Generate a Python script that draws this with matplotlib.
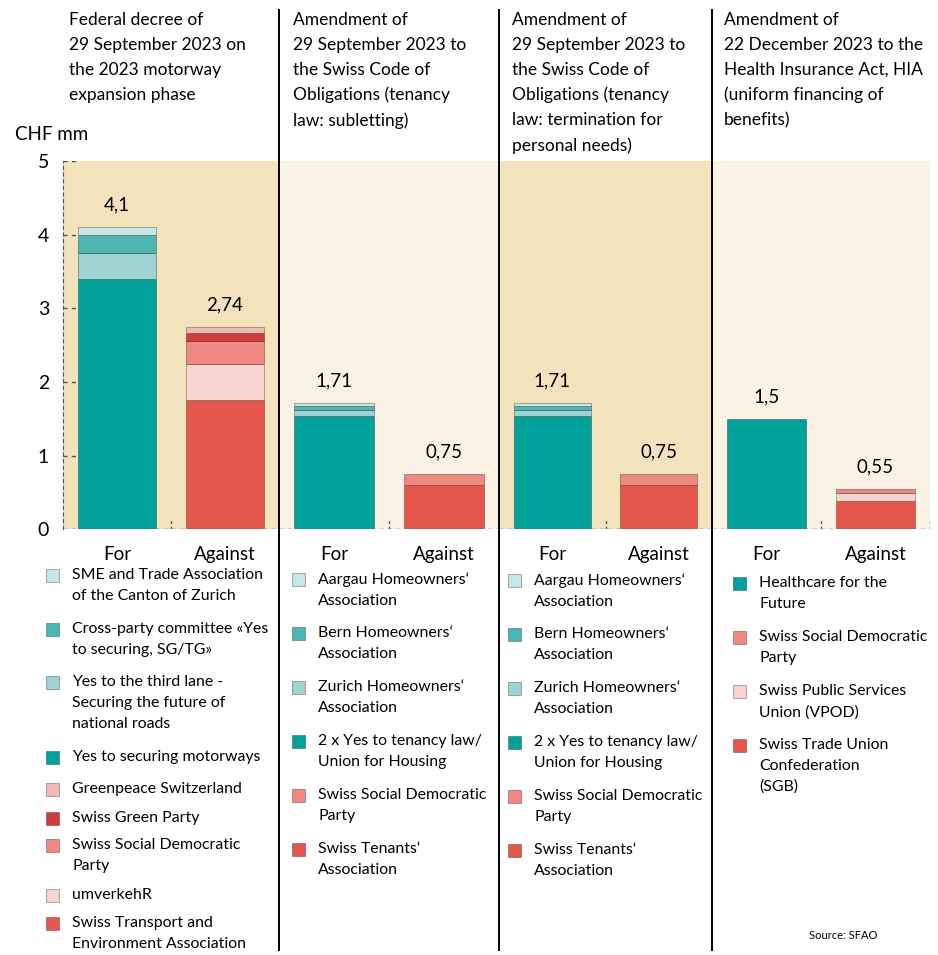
import matplotlib.pyplot as plt
from matplotlib.patches import Rectangle
from matplotlib.lines import Line2D

plt.rcParams["font.family"] = ["Lato", "DejaVu Sans"]

# ---- data -------------------------------------------------------------
titles = [
    "Federal decree of\n29 September 2023 on\nthe 2023 motorway\nexpansion phase",
    "Amendment of\n29 September 2023 to\nthe Swiss Code of\nObligations (tenancy\nlaw: subletting)",
    "Amendment of\n29 September 2023 to\nthe Swiss Code of\nObligations (tenancy\nlaw: termination for\npersonal needs)",
    "Amendment of\n22 December 2023 to the\nHealth Insurance Act, HIA\n(uniform financing of\nbenefits)",
]
categories = ["For", "Against"]

# stacks listed bottom -> top
p1_for_labels = ["Yes to securing motorways",
                 "Yes to the third lane -\nSecuring the future of\nnational roads",
                 "Cross-party committee «Yes\nto securing, SG/TG»",
                 "SME and Trade Association\nof the Canton of Zurich"]
p1_for_values = [3.40, 0.35, 0.25, 0.10]
p1_against_labels = ["Swiss Transport and\nEnvironment Association",
                     "umverkehR",
                     "Swiss Social Democratic\nParty",
                     "Swiss Green Party",
                     "Greenpeace Switzerland"]
p1_against_values = [1.76, 0.49, 0.30, 0.12, 0.07]

tenancy_for_labels = ["2 x Yes to tenancy law/\nUnion for Housing",
                      "Zurich Homeowners\u2018\nAssociation",
                      "Bern Homeowners\u2018\nAssociation",
                      "Aargau Homeowners\u2018\nAssociation"]
tenancy_for_values = [1.54, 0.08, 0.06, 0.03]
tenancy_against_labels = ["Swiss Tenants\u2018\nAssociation",
                          "Swiss Social Democratic\nParty"]
tenancy_against_values = [0.60, 0.15]

hia_for_labels = ["Healthcare for the\nFuture"]
hia_for_values = [1.5]
hia_against_labels = ["Swiss Trade Union\nConfederation\n(SGB)",
                      "Swiss Public Services\nUnion (VPOD)",
                      "Swiss Social Democratic\nParty"]
hia_against_values = [0.39, 0.10, 0.06]

# colours
TEAL, TEAL_MID, TEAL_LIGHT, TEAL_PALE = "#00a19b", "#4db6b3", "#9dd4d3", "#c6e7e7"
RED, SALMON, DARKRED, PINK, PALEPINK = "#e5574d", "#ee8880", "#cf3c39", "#f4b9b4", "#f7d4d2"
TAN, CREAM = "#f3e3bc", "#faf3e4"

p1_for_colors = [TEAL, TEAL_LIGHT, TEAL_MID, TEAL_PALE]
p1_against_colors = [RED, PALEPINK, SALMON, DARKRED, PINK]
tenancy_for_colors = [TEAL, TEAL_LIGHT, TEAL_MID, TEAL_PALE]
tenancy_against_colors = [RED, SALMON]
hia_for_colors = [TEAL]
hia_against_colors = [RED, PALEPINK, SALMON]

panels = [
    (p1_for_labels, p1_for_values, p1_for_colors,
     p1_against_labels, p1_against_values, p1_against_colors),
    (tenancy_for_labels, tenancy_for_values, tenancy_for_colors,
     tenancy_against_labels, tenancy_against_values, tenancy_against_colors),
    (tenancy_for_labels, tenancy_for_values, tenancy_for_colors,
     tenancy_against_labels, tenancy_against_values, tenancy_against_colors),
    (hia_for_labels, hia_for_values, hia_for_colors,
     hia_against_labels, hia_against_values, hia_against_colors),
]

# ---- layout (pixels) ----------------------------------------------------
W, H = 938, 955
edges = [63, 279, 499, 712, 930]
bg = [TAN, CREAM, TAN, CREAM]
title_x = [69, 293, 512, 724]
leg_box_x = [46, 292, 508, 733]
leg_top = [575, 579, 580, 583]
# vertical gap after each legend entry (panel 1 is squeezed at the bottom)
leg_gaps = [[33, 32, 33, 32, 29, 27, 29, 28, 0],
            [33] * 6, [33] * 6, [33] * 4]
LINE = 21
y_bottom, y_top = 529.3, 161


def fx(px):
    return px / W


def fy(py):
    return 1 - py / H


fig = plt.figure(figsize=(W / 100, H / 100), dpi=100)

for i, (fl, fv, fc, al, av, ac) in enumerate(panels):
    ax = fig.add_axes([fx(edges[i]), fy(y_bottom),
                       (edges[i + 1] - edges[i]) / W, (y_bottom - y_top) / H])
    ax.set_facecolor(bg[i])
    ax.set_xlim(-0.5, 1.5)
    ax.set_ylim(0, 5)
    for s in ax.spines.values():
        s.set_visible(False)

    for x, vals, cols in ((0, fv, fc), (1, av, ac)):
        bottom = 0
        for v, c in zip(vals, cols):
            ax.bar(x, v, bottom=bottom, width=0.72, color=c,
                   edgecolor=(0, 0, 0, 0.3), linewidth=0.7, zorder=3)
            bottom += v
        lbl = f"{bottom:.2f}".rstrip("0").rstrip(".").replace(".", ",")
        ax.text(x, bottom + 0.3, lbl, ha="center", va="center", fontsize=13.5)

    ax.axhline(0, color="#555555", lw=1, ls=(0, (3, 3)), zorder=4)
    ax.vlines(0.5, 0, 0.12, color="#555555", lw=1, ls=(0, (2, 2)), zorder=4)
    ax.set_xticks([0, 1])
    ax.set_xticklabels(categories, fontsize=13.5)
    ax.tick_params(axis="x", length=0, pad=12)

    if i == 0:
        ax.spines["left"].set_visible(True)
        ax.spines["left"].set_linestyle((0, (3, 3)))
        ax.spines["left"].set_color("#555555")
        ax.hlines([1, 2, 3, 4, 5], -0.5, -0.35, color="#555555", lw=1,
                  ls=(0, (3, 3)), zorder=4)
        ax.set_yticks([0, 1, 2, 3, 4, 5])
        ax.tick_params(axis="y", length=0, pad=10, labelsize=14)
    else:
        ax.set_yticks([])
    if i == 3:
        ax.vlines(1.5, 0, 0.12, color="#555555", lw=1, ls=(0, (2, 2)), zorder=4)

    # panel title
    fig.text(fx(title_x[i]), fy(12), titles[i], ha="left", va="top",
             fontsize=12.5, linespacing=1.68)

    # legend, top of stack first
    entries = list(zip(fl[::-1], fc[::-1])) + list(zip(al[::-1], ac[::-1]))
    y = leg_top[i]
    for (text, col), gap in zip(entries, leg_gaps[i]):
        fig.add_artist(Rectangle((fx(leg_box_x[i]), fy(y + 7)), 13 / W, 13 / H,
                                 facecolor=col, edgecolor=(0, 0, 0, 0.35),
                                 lw=0.6, transform=fig.transFigure))
        fig.text(fx(leg_box_x[i] + 26), fy(y - 7), text, ha="left", va="top",
                 fontsize=11.4, linespacing=1.62)
        y += LINE * (text.count("\n")) + gap

# separators
for xp in edges[1:4]:
    fig.add_artist(Line2D([fx(xp), fx(xp)], [fy(10), fy(950)], color="black",
                          lw=1.4, transform=fig.transFigure))

fig.text(fx(15), fy(135), "CHF mm", ha="left", va="center", fontsize=13.5)
fig.text(fx(843), fy(935), "Source: SFAO", ha="center", va="center", fontsize=8)

fig.savefig("out.png", dpi=100)
